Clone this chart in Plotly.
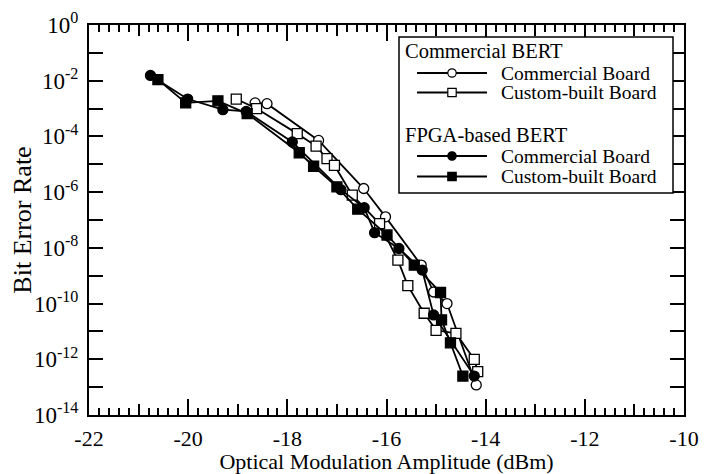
import plotly.graph_objects as go

# ---- data ----
cb_comm_x = [-18.65, -18.41, -17.37, -16.46, -16.02, -15.30, -15.05, -14.78, -14.19]
cb_comm_y = [1.6e-3, 1.5e-3, 7.2e-5, 1.35e-6, 1.3e-7, 2.4e-9, 2.6e-10, 1.0e-10, 1.2e-13]

cb_cust_x = [-19.03, -18.62, -17.80, -17.42, -17.20, -17.05, -16.69, -16.14, -15.77, -15.57,
             -15.24, -15.00, -14.60, -14.23, -14.16]
cb_cust_y = [2.2e-3, 1.0e-3, 1.26e-4, 4.5e-5, 1.6e-5, 9.1e-6, 7.8e-7, 7.4e-8, 3.6e-9, 4.4e-10,
             4.5e-11, 1.1e-11, 8.5e-12, 1.0e-12, 3.6e-13]

fp_comm_x = [-20.76, -20.01, -19.30, -18.83, -17.90, -16.92, -16.45, -16.24, -15.75, -15.28,
             -15.05, -14.23]
fp_comm_y = [1.55e-2, 2.2e-3, 9.1e-4, 7.9e-4, 6.3e-5, 1.23e-6, 2.75e-7, 3.5e-8, 9.5e-9, 1.6e-9,
             3.9e-11, 2.5e-13]

fp_cust_x = [-20.61, -20.05, -19.40, -18.81, -17.76, -17.47, -17.00, -16.58, -15.99, -15.44,
             -14.91, -14.89, -14.71, -14.46]
fp_cust_y = [1.1e-2, 1.6e-3, 1.9e-3, 6.6e-4, 2.6e-5, 8.5e-6, 1.55e-6, 2.45e-7, 2.9e-8, 2.4e-9,
             2.5e-10, 2.6e-11, 3.9e-12, 2.5e-13]

x_major = [-22, -20, -18, -16, -14, -12, -10]
x_odd = [-21, -19, -17, -15, -13, -11]
y_major_exps = [0, -2, -4, -6, -8, -10, -12, -14]
y_minor_exps = [-1, -3, -5, -7, -9, -11, -13]

FONT = "Liberation Serif"

fig = go.Figure()

def add(x, y, symbol, fill, name):
    fig.add_trace(go.Scatter(
        x=x, y=y, mode="lines+markers", name=name, showlegend=False,
        line=dict(color="black", width=1.8),
        marker=dict(symbol=symbol, size=10, color=fill, line=dict(color="black", width=1.3)),
    ))

add(cb_comm_x, cb_comm_y, "circle", "white", "Commercial BERT - Commercial Board")
add(cb_cust_x, cb_cust_y, "square", "white", "Commercial BERT - Custom-built Board")
add(fp_comm_x, fp_comm_y, "circle", "black", "FPGA-based BERT - Commercial Board")
add(fp_cust_x, fp_cust_y, "square", "black", "FPGA-based BERT - Custom-built Board")

# dummy trace to activate the overlay axis for the odd-integer ticks
fig.add_trace(go.Scatter(x=[None], y=[None], xaxis="x2", showlegend=False, hoverinfo="skip"))

yvals = [10.0 ** e for e in y_major_exps]
ytext = ["10<sup>%d</sup>" % e for e in y_major_exps]
yminor = [10.0 ** e for e in y_minor_exps]

# page body has an 8px margin, so the figure is 8px smaller and offset
W, H = 699, 466
ML, MT, MR, MB = 81, 17, 23, 59

fig.update_layout(
    template="none",
    width=W, height=H,
    margin=dict(l=ML, r=MR, t=MT, b=MB, autoexpand=False),
    paper_bgcolor="white", plot_bgcolor="white",
    font=dict(family=FONT, color="black", size=22),
    showlegend=False,
    xaxis=dict(
        automargin=False,
        range=[-22, -10], tickvals=x_major, ticktext=[str(v) for v in x_major],
        ticks="inside", ticklen=16, tickwidth=1.5, tickcolor="black",
        minor=dict(dtick=0.2, ticks="inside", ticklen=7, tickwidth=1.5, tickcolor="black", showgrid=False),
        showline=True, linewidth=2, linecolor="black", mirror="allticks",
        showgrid=False, zeroline=False,
        tickfont=dict(family=FONT, size=22), ticklabelstandoff=3,
        title=dict(text="Optical Modulation Amplitude (dBm)", font=dict(family=FONT, size=22), standoff=3),
    ),
    xaxis2=dict(
        automargin=False,
        range=[-22, -10], overlaying="x", side="bottom", tickvals=x_odd,
        ticks="inside", ticklen=11, tickwidth=1.5, tickcolor="black",
        showticklabels=False, showline=False, mirror="allticks", showgrid=False, zeroline=False,
    ),
    yaxis=dict(
        automargin=False,
        type="log", range=[-14, 0], tickvals=yvals, ticktext=ytext,
        ticks="inside", ticklen=14, tickwidth=1.5, tickcolor="black",
        minor=dict(tickvals=yminor, ticks="inside", ticklen=14, tickwidth=1.5, tickcolor="black", showgrid=False),
        showline=True, linewidth=2, linecolor="black", mirror="allticks",
        showgrid=False, zeroline=False,
        tickfont=dict(family=FONT, size=23), ticklabelstandoff=4,
        title=dict(text="Bit Error Rate", font=dict(family=FONT, size=26), standoff=0),
    ),
)

# ---- hand-drawn legend (paper coordinates, page pixels) ----
X0, X1, Y0, Y1 = 89.0, 684.0, 25.0, 415.0
def px(x): return (x - X0) / (X1 - X0)
def py(y): return (Y1 - y) / (Y1 - Y0)

LEG_FS = 19.5

fig.add_shape(type="rect", xref="paper", yref="paper",
              x0=px(399), x1=px(673), y0=py(193), y1=py(37),
              line=dict(color="black", width=1.5), fillcolor="white", layer="above")

def header(text, y):
    fig.add_annotation(xref="paper", yref="paper", x=px(403), y=py(y), text=text,
                       showarrow=False, xanchor="left", yanchor="middle",
                       font=dict(family=FONT, size=LEG_FS + 1, color="black"))

def entry(text, y, symbol, fill):
    fig.add_shape(type="line", xref="paper", yref="paper",
                  x0=px(417), x1=px(487), y0=py(y), y1=py(y),
                  line=dict(color="black", width=1.8), layer="above")
    r = 4.2
    fig.add_shape(type=symbol, xref="paper", yref="paper",
                  x0=px(452 - r), x1=px(452 + r), y0=py(y + r), y1=py(y - r),
                  line=dict(color="black", width=1.2), fillcolor=fill, layer="above")
    fig.add_annotation(xref="paper", yref="paper", x=px(499), y=py(y), text=text,
                       showarrow=False, xanchor="left", yanchor="middle",
                       font=dict(family=FONT, size=LEG_FS, color="black"))

header("Commercial BERT", 51)
entry("Commercial Board", 73, "circle", "white")
entry("Custom-built Board", 92.5, "rect", "white")
header("FPGA-based BERT", 135)
entry("Commercial Board", 156, "circle", "black")
entry("Custom-built Board", 176.5, "rect", "black")

fig.write_html("out.html")
